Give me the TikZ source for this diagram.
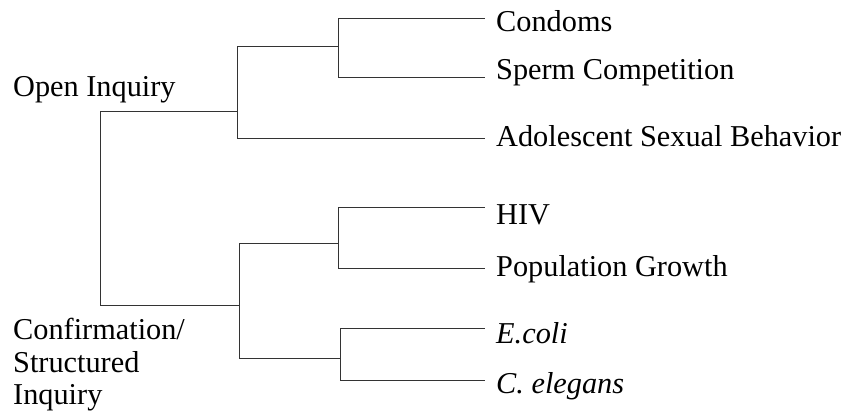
\documentclass[tikz,border=0pt]{standalone}
\usepackage{fontspec}
\setmainfont{Liberation Serif}

\begin{document}
\begin{tikzpicture}[x=1pt,y=-1pt,
  branch/.style={line width=1pt,black!80},
  leaf/.style={anchor=base west,inner sep=0pt,font=\fontsize{30.3}{32.5}\selectfont},
  group/.style={anchor=north west,inner sep=0pt,align=left,font=\fontsize{30.3}{32.5}\selectfont}]
\useasboundingbox (0,0) rectangle (845,419);
% labels
\node[leaf] (condoms) at (496,32) {Condoms};
\node[leaf] (sperm) at (496,80) {Sperm Competition};
\node[leaf] (adolescent) at (496,147) {Adolescent Sexual Behavior};
\node[leaf] (hiv) at (496,225) {HIV};
\node[leaf] (population) at (496,277) {Population Growth};
\node[leaf] (ecoli) at (496,343) {\itshape E.coli};
\node[leaf] (elegans) at (496,393) {\itshape C. elegans};
\node[group] (open) at (13,76) {Open Inquiry};
\node[group] (confirm) at (13,318) {Confirmation/\\Structured\\Inquiry};
% line ends
\coordinate (condoms-end) at (485,19);
\coordinate (sperm-end) at (485,78);
\coordinate (adolescent-end) at (485,139);
\coordinate (hiv-end) at (485,208);
\coordinate (population-end) at (485,269);
\coordinate (ecoli-end) at (485,328);
\coordinate (elegans-end) at (485,380);
% joins
\coordinate (root) at (100,210);
\coordinate (k-open) at (237,112);
\coordinate (k-cs) at (338,47);
\coordinate (k-conf) at (239,305);
\coordinate (k-hp) at (338,244);
\coordinate (k-ec) at (340,358);
\draw[branch] (root) |- (k-open);
\draw[branch] (root) |- (k-conf);
\draw[branch] (k-open) |- (k-cs);
\draw[branch] (k-open) |- (adolescent-end);
\draw[branch] (k-cs) |- (condoms-end);
\draw[branch] (k-cs) |- (sperm-end);
\draw[branch] (k-conf) |- (k-hp);
\draw[branch] (k-conf) |- (k-ec);
\draw[branch] (k-hp) |- (hiv-end);
\draw[branch] (k-hp) |- (population-end);
\draw[branch] (k-ec) |- (ecoli-end);
\draw[branch] (k-ec) |- (elegans-end);
\end{tikzpicture}
\end{document}
